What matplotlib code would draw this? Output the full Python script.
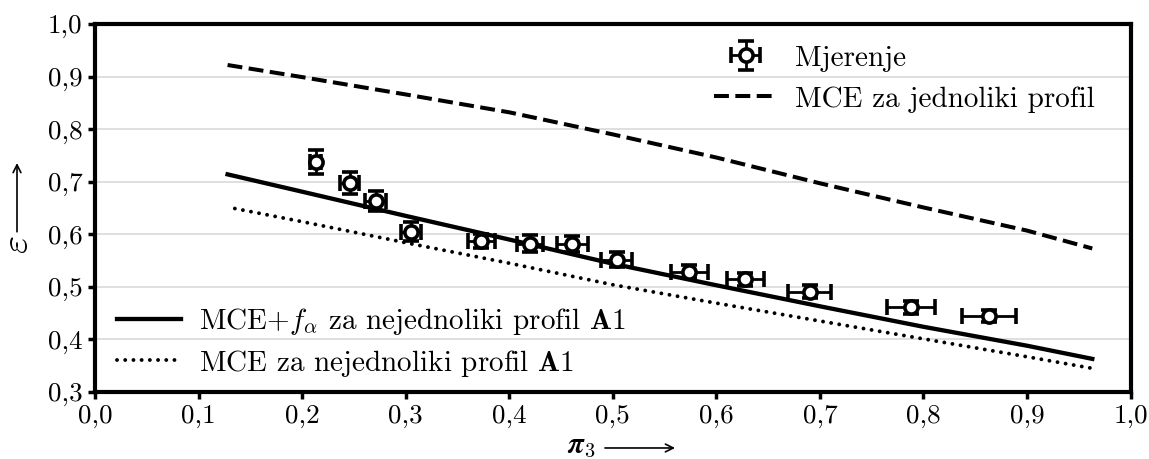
import numpy as np
import matplotlib
matplotlib.use("Agg")
import matplotlib.pyplot as plt
from matplotlib.ticker import FuncFormatter

plt.rcParams["font.family"] = "cmr10"
plt.rcParams["mathtext.fontset"] = "cm"
plt.rcParams["axes.formatter.use_mathtext"] = True

# measured points
pi3 = [0.213, 0.246, 0.271, 0.305, 0.373, 0.420, 0.461, 0.504, 0.574, 0.628, 0.690, 0.788, 0.863]
eps = [0.738, 0.698, 0.663, 0.605, 0.587, 0.582, 0.581, 0.552, 0.529, 0.514, 0.491, 0.461, 0.445]
pi3_err = [0.005, 0.009, 0.010, 0.010, 0.013, 0.013, 0.015, 0.015, 0.018, 0.018, 0.021, 0.023, 0.026]
eps_err = [0.023, 0.021, 0.019, 0.018, 0.014, 0.016, 0.015, 0.015, 0.013, 0.013, 0.013, 0.012, 0.011]

# model curves
pi_uni = [0.128, 0.2, 0.3, 0.4, 0.5, 0.6, 0.7, 0.8, 0.9, 0.963]
eps_uni = [0.922, 0.899, 0.866, 0.832, 0.790, 0.746, 0.697, 0.651, 0.607, 0.573]

pi_fa = [0.128, 0.2, 0.3, 0.4, 0.5, 0.6, 0.7, 0.8, 0.9, 0.963]
eps_fa = [0.714, 0.681, 0.635, 0.590, 0.544, 0.503, 0.463, 0.424, 0.388, 0.363]

pi_nonuni = [0.135, 0.2, 0.3, 0.4, 0.5, 0.6, 0.7, 0.8, 0.9, 0.963]
eps_nonuni = [0.649, 0.624, 0.584, 0.545, 0.504, 0.469, 0.435, 0.401, 0.367, 0.345]

fig = plt.figure(figsize=(11.49, 4.59), dpi=100)
ax = fig.add_axes([0.0827, 0.146, 0.9013, 0.8017])

ax.set_xlim(0, 1.0)
ax.set_ylim(0.3, 1.0)
ax.set_xticks(np.arange(0, 1.01, 0.1))
ax.set_yticks(np.arange(0.3, 1.01, 0.1))
# decimal comma
comma = FuncFormatter(lambda v, p: f"{v:.1f}".replace(".", ","))
ax.xaxis.set_major_formatter(comma)
ax.yaxis.set_major_formatter(comma)
ax.tick_params(axis="both", direction="out", length=5, width=2.5, labelsize=19.5, pad=4)
for s in ax.spines.values():
    s.set_linewidth(3)
ax.grid(axis="y", color="#d9d9d9", lw=1.2)
ax.set_axisbelow(True)

l_uni, = ax.plot(pi_uni, eps_uni, color="black", lw=2.9, linestyle=(0, (3.7, 1.6)),
                 label="MCE za jednoliki profil")
l_fa, = ax.plot(pi_fa, eps_fa, color="black", lw=3.1,
                label=r"MCE+$f_\alpha$ za nejednoliki profil $\mathbf{A1}$")
l_non, = ax.plot(pi_nonuni, eps_nonuni, color="black", lw=2.8, linestyle=(0, (0.01, 2.1)),
                 dash_capstyle="round", label=r"MCE za nejednoliki profil $\mathbf{A1}$")
meas = ax.errorbar(pi3, eps, xerr=pi3_err, yerr=eps_err, fmt="o", color="black",
                   mfc="white", mec="black", ms=9.5, mew=2.6, elinewidth=2,
                   capsize=6, capthick=2, label="Mjerenje", zorder=5)

leg1 = ax.legend(handles=[meas, l_uni], loc="upper right", bbox_to_anchor=(0.991, 1.014),
                 frameon=False, fontsize=21, handlelength=2.2, labelspacing=0.5,
                 handletextpad=0.6)
ax.add_artist(leg1)
ax.legend(handles=[l_fa, l_non], loc="lower left", bbox_to_anchor=(-0.004, -0.035),
          frameon=False, fontsize=21, handlelength=2.2, labelspacing=0.35,
          handletextpad=0.6)

# axis labels with long arrows
fig.text(0.5057, 0.026, r"$\boldsymbol{\pi}_3$", fontsize=21, ha="center", va="center")
fig.text(0.0155, 0.466, r"$\boldsymbol{\varepsilon}$", fontsize=28, rotation=90,
         ha="center", va="center")
arrow = dict(arrowstyle="->", lw=1.2, color="black", shrinkA=0, shrinkB=0, mutation_scale=14)
fig.add_artist(plt.Annotation("", xy=(0.5875, 0.024), xytext=(0.5265, 0.024),
                              xycoords="figure fraction", arrowprops=arrow))
fig.add_artist(plt.Annotation("", xy=(0.0148, 0.6449), xytext=(0.0148, 0.4950),
                              xycoords="figure fraction", arrowprops=arrow))

fig.savefig("out.png", dpi=100)
